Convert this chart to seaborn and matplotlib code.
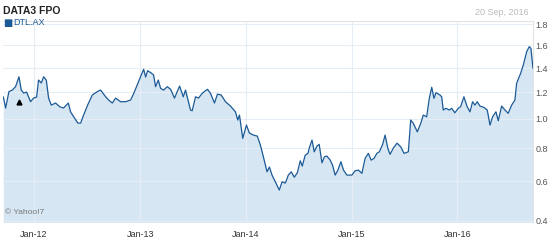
import numpy as np
import pandas as pd
import matplotlib
matplotlib.use("Agg")
import matplotlib.pyplot as plt
import matplotlib.dates as mdates
import seaborn as sns

# ---- data (decimal years, price in AUD) ----
t_years = [
    2011.709, 2011.731, 2011.762, 2011.794, 2011.825, 2011.857, 2011.879, 2011.901, 2011.929, 2011.967,
    2011.995, 2012.024, 2012.042, 2012.068, 2012.090, 2012.115, 2012.137, 2012.162, 2012.203, 2012.241,
    2012.278, 2012.323, 2012.344, 2012.373, 2012.413, 2012.439, 2012.467, 2012.505, 2012.549, 2012.596,
    2012.627, 2012.675, 2012.703, 2012.738, 2012.769, 2012.816, 2012.863, 2012.910, 2012.939, 2012.972,
    2013.005, 2013.033, 2013.052, 2013.071, 2013.106, 2013.127, 2013.146, 2013.172, 2013.193, 2013.222,
    2013.257, 2013.288, 2013.325, 2013.373, 2013.408, 2013.429, 2013.448, 2013.476, 2013.492, 2013.524,
    2013.552, 2013.587, 2013.618, 2013.637, 2013.665, 2013.703, 2013.731, 2013.766, 2013.807, 2013.854,
    2013.901, 2013.923, 2013.939, 2013.970, 2014.005, 2014.033, 2014.071, 2014.108, 2014.137, 2014.165,
    2014.200, 2014.222, 2014.247, 2014.278, 2014.316, 2014.342, 2014.373, 2014.401, 2014.429, 2014.458,
    2014.486, 2014.514, 2014.533, 2014.561, 2014.587, 2014.599, 2014.625, 2014.646, 2014.672, 2014.693,
    2014.719, 2014.743, 2014.766, 2014.797, 2014.819, 2014.844, 2014.870, 2014.898, 2014.923, 2014.955,
    2015.002, 2015.033, 2015.064, 2015.097, 2015.127, 2015.158, 2015.184, 2015.212, 2015.238, 2015.262,
    2015.294, 2015.316, 2015.342, 2015.363, 2015.394, 2015.429, 2015.464, 2015.495, 2015.536, 2015.558,
    2015.583, 2015.621, 2015.653, 2015.677, 2015.709, 2015.734, 2015.757, 2015.778, 2015.797, 2015.835,
    2015.851, 2015.866, 2015.892, 2015.923, 2015.945, 2015.976, 2016.008, 2016.030, 2016.061, 2016.092,
    2016.118, 2016.143, 2016.165, 2016.187, 2016.212, 2016.250, 2016.281, 2016.307, 2016.332, 2016.363,
    2016.385, 2016.417, 2016.448, 2016.479, 2016.511, 2016.542, 2016.558, 2016.596, 2016.621, 2016.653,
    2016.677, 2016.693, 2016.712,
]
prices = [
    1.165, 1.079, 1.205, 1.218, 1.245, 1.326, 1.218, 1.194, 1.202, 1.127,
    1.155, 1.163, 1.299, 1.275, 1.326, 1.299, 1.155, 1.101, 1.117, 1.089,
    1.079, 1.117, 1.051, 1.015, 0.969, 0.969, 1.027, 1.101, 1.179, 1.205,
    1.218, 1.165, 1.140, 1.117, 1.155, 1.127, 1.127, 1.140, 1.190, 1.258,
    1.326, 1.389, 1.324, 1.377, 1.357, 1.341, 1.245, 1.299, 1.232, 1.218,
    1.245, 1.224, 1.155, 1.250, 1.165, 1.218, 1.155, 1.064, 1.059, 1.165,
    1.155, 1.192, 1.213, 1.224, 1.192, 1.117, 1.186, 1.179, 1.127, 1.094,
    1.051, 0.991, 1.027, 0.864, 0.955, 0.900, 0.886, 0.879, 0.819, 0.745,
    0.654, 0.682, 0.635, 0.597, 0.552, 0.597, 0.590, 0.635, 0.654, 0.623,
    0.648, 0.720, 0.688, 0.755, 0.766, 0.800, 0.852, 0.776, 0.813, 0.824,
    0.708, 0.745, 0.749, 0.724, 0.694, 0.635, 0.664, 0.714, 0.664, 0.635,
    0.635, 0.660, 0.664, 0.645, 0.735, 0.766, 0.724, 0.735, 0.766, 0.776,
    0.826, 0.886, 0.798, 0.760, 0.800, 0.832, 0.808, 0.766, 0.776, 0.991,
    0.967, 0.908, 0.967, 1.027, 1.015, 1.153, 1.240, 1.153, 1.197, 1.179,
    1.165, 1.064, 1.077, 1.064, 1.077, 1.044, 1.077, 1.089, 1.165, 1.089,
    1.051, 1.127, 1.101, 1.127, 1.094, 1.084, 1.064, 0.955, 1.015, 1.051,
    0.986, 1.094, 1.064, 1.040, 1.101, 1.140, 1.272, 1.355, 1.425, 1.543,
    1.588, 1.573, 1.397,
]
event_year = 2011.857
event_price = 1.127

title_text = "DATA3 FPO"
legend_text = "DTL.AX"
date_text = "20 Sep, 2016"
credit_text = "\u00a9 Yahoo!7"
y_ticks = [0.4, 0.6, 0.8, 1.0, 1.2, 1.4, 1.6, 1.8]
x_tick_years = [2012, 2013, 2014, 2015, 2016]
x_tick_labels = ["Jan-12", "Jan-13", "Jan-14", "Jan-15", "Jan-16"]


def to_date(y):
    yr = int(np.floor(y))
    start = pd.Timestamp(year=yr, month=1, day=1)
    end = pd.Timestamp(year=yr + 1, month=1, day=1)
    return start + (end - start) * (y - yr)


df = pd.DataFrame({"date": [to_date(v) for v in t_years], "price": prices})

sns.set_theme(style="white")
plt.rcParams["font.family"] = ["Liberation Sans", "DejaVu Sans"]

fig = plt.figure(figsize=(5.5, 2.4), dpi=100)
ax = fig.add_axes([0.006, 0.075, 0.963, 0.8375])

line_c = "#1b5a96"
fill_c = "#d6e6f2"

ax.set_yscale("function", functions=(lambda v: np.sqrt(np.clip(v, 0, None)), lambda v: v ** 2))
ax.fill_between(df["date"], df["price"], 0.3, color=fill_c, linewidth=0, zorder=1)
sns.lineplot(data=df, x="date", y="price", ax=ax, color=line_c, linewidth=0.9, zorder=3)
ax.plot([to_date(event_year)], [event_price], marker="^", color="black", markersize=3.5,
        linestyle="none", zorder=4)

ax.set_xlim(df["date"].iloc[0], df["date"].iloc[-1])
ax.set_ylim(0.394, 1.83)
ax.set_xlabel("")
ax.set_ylabel("")

ax.set_yticks(y_ticks)
ax.set_yticklabels([f"{v:.1f}" for v in y_ticks])
ax.yaxis.tick_right()
ax.tick_params(axis="y", length=0, labelsize=6.5, labelcolor="#555555", pad=2)

ax.set_xticks([pd.Timestamp(year=y, month=1, day=1) for y in x_tick_years])
ax.set_xticklabels(x_tick_labels)
ax.xaxis.set_minor_locator(mdates.MonthLocator(bymonth=[4, 7, 10]))
ax.tick_params(axis="x", which="major", length=3, color="#e0e0e0", labelsize=6.5,
               labelcolor="#333333", pad=3)
ax.tick_params(axis="x", which="minor", length=3, color="#e0e0e0")

ax.grid(True, which="major", axis="both", color="#e6edf4", linewidth=0.8, zorder=2)
ax.set_axisbelow(False)
for side in ["left", "bottom"]:
    ax.spines[side].set_visible(False)
for side in ["top", "right"]:
    ax.spines[side].set_color("#e3e3e3")
    ax.spines[side].set_linewidth(0.8)

ax.text(0.004, 0.03, credit_text, transform=ax.transAxes, fontsize=6, color="#777777",
        ha="left", va="bottom", zorder=5)

fig.text(0.005, 0.975, title_text, fontsize=7.5, fontweight="bold", color="#222222",
         ha="left", va="top")
fig.text(0.005, 0.925, "\u25a0", fontsize=7, color=line_c, ha="left", va="top",
         family=["DejaVu Sans"])
fig.text(0.025, 0.925, legend_text, fontsize=6.5, color=line_c, ha="left", va="top")
fig.text(0.962, 0.965, date_text, fontsize=6.5, color="#bbbbbb", ha="right", va="top")

fig.savefig("out.png", dpi=100)
